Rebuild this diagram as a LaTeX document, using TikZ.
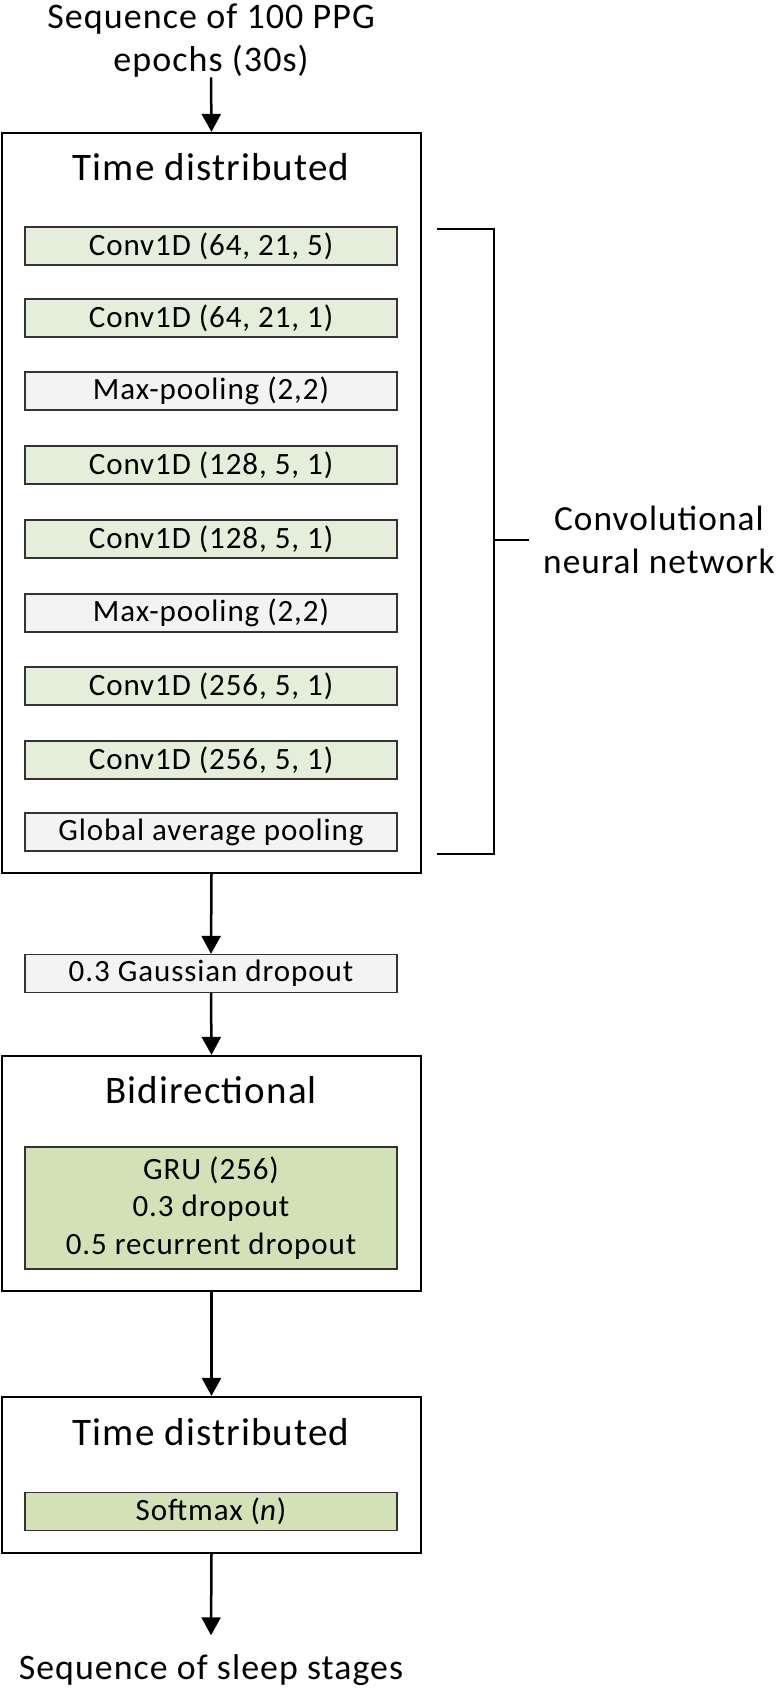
\documentclass[tikz,border=0pt]{standalone}
\usepackage{fontspec}
\setmainfont[LetterSpace=3]{Carlito}
\usetikzlibrary{arrows.meta}
\definecolor{convgreen}{HTML}{E4EEDA}
\definecolor{densegreen}{HTML}{D2E1B6}
\definecolor{poolgray}{HTML}{F3F3F3}
\begin{document}
\begin{tikzpicture}[x=1pt,y=-1pt,
  outerbox/.style={draw=black, line width=2.2pt, minimum width=419pt, inner sep=0pt},
  layer/.style={draw=black!80, line width=1.2pt, minimum width=372pt, minimum height=38pt, inner sep=0pt, font=\fontsize{31}{37}\selectfont},
  conv/.style={layer, fill=convgreen},
  pool/.style={layer, fill=poolgray},
  dense/.style={layer, fill=densegreen},
  boxtitle/.style={inner sep=0pt, font=\fontsize{39}{46}\selectfont},
  plaintext/.style={inner sep=0pt, align=center, font=\fontsize{36}{43}\selectfont},
  arr/.style={-{Triangle[width=19pt,length=18pt]}, line width=2.5pt},
  brk/.style={line width=2.2pt}
]
\useasboundingbox[fill=white] (0,0) rectangle (777,1692);

% input text
\node[plaintext] (input) at (211,40.5) {Sequence of 100 PPG\\epochs (30s)};

% time distributed CNN
\node[outerbox, minimum height=740pt] (td1) at (211.5,503) {};
\node[boxtitle] (td1t) at (211,167) {Time distributed};
\node[conv] (c1) at (211,246) {Conv1D (64, 21, 5)};
\node[conv] (c2) at (211,318) {Conv1D (64, 21, 1)};
\node[pool] (p1) at (211,391) {Max-pooling (2,2)};
\node[conv] (c3) at (211,465) {Conv1D (128, 5, 1)};
\node[conv] (c4) at (211,539) {Conv1D (128, 5, 1)};
\node[pool] (p2) at (211,613) {Max-pooling (2,2)};
\node[conv] (c5) at (211,686) {Conv1D (256, 5, 1)};
\node[conv] (c6) at (211,760) {Conv1D (256, 5, 1)};
\node[pool] (gap) at (211,832) {Global average pooling};

% dropout
\node[pool] (gd) at (211,973.5) {0.3 Gaussian dropout};

% bidirectional
\node[outerbox, minimum height=235pt] (bi) at (211.5,1173.5) {};
\node[boxtitle] (bit) at (211,1090) {Bidirectional};
\node[dense, minimum height=122pt, align=center, font=\fontsize{31}{37.5}\selectfont] (gru) at (211,1208) {GRU (256)\\0.3 dropout\\0.5 recurrent dropout};

% time distributed softmax
\node[outerbox, minimum height=156pt] (td2) at (211.5,1475) {};
\node[boxtitle] (td2t) at (211,1432) {Time distributed};
\node[dense] (sm) at (211,1511.5) {Softmax (\textit{n})};

% output text
\node[plaintext, font=\fontsize{35.8}{43}\selectfont] (output) at (211,1670) {Sequence of sleep stages};

% arrows
\draw[arr] (input.south) -- (td1.north);
\draw[arr] (td1.south) -- (gd.north);
\draw[arr] (gd.south) -- (bi.north);
\draw[arr] (bi.south) -- (td2.north);
\draw[arr] (td2.south) -- ([yshift=19pt]output.north);

% bracket
\coordinate (bt) at (437,229);
\coordinate (bb) at (437,854);
\coordinate (bx) at (494,540);
\coordinate (bm) at (529,540);
\draw[brk] (bt) -| (bx) |- (bb);
\draw[brk] (bx) -- (bm);
\node[plaintext, font=\fontsize{35.3}{43}\selectfont] (cnn) at (659,540) {Convolutional\\neural network};
\end{tikzpicture}
\end{document}
